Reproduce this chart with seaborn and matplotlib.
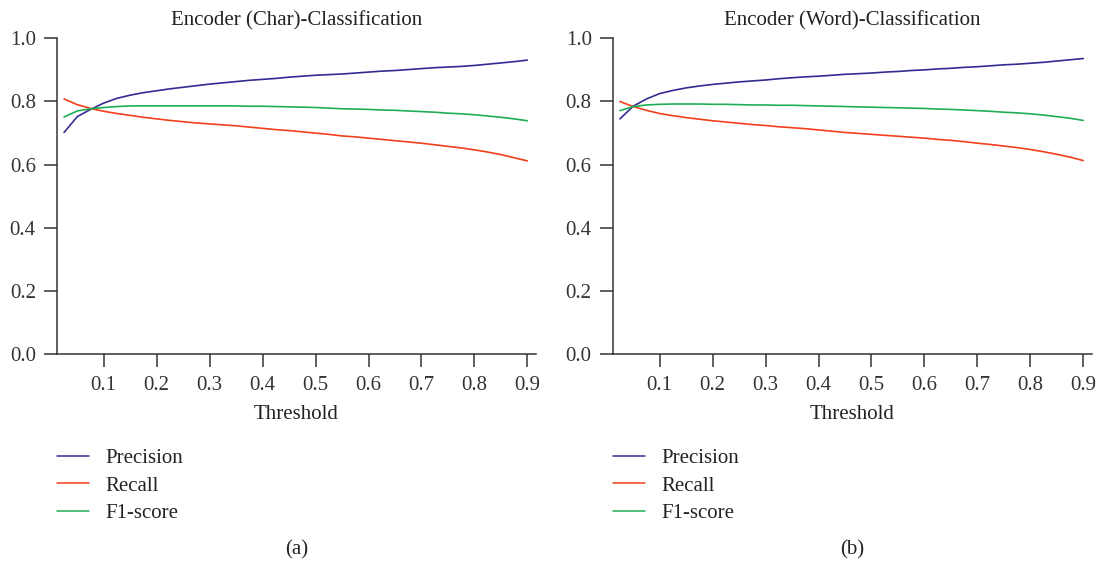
import numpy as np
import pandas as pd
import matplotlib
matplotlib.use("Agg")
import matplotlib.pyplot as plt
import seaborn as sns

thresholds = [0.025, 0.05, 0.075, 0.1, 0.125, 0.15, 0.175, 0.2, 0.225, 0.25,
              0.275, 0.3, 0.325, 0.35, 0.375, 0.4, 0.425, 0.45, 0.475, 0.5,
              0.525, 0.55, 0.575, 0.6, 0.625, 0.65, 0.675, 0.7, 0.725, 0.75,
              0.775, 0.8, 0.825, 0.85, 0.875, 0.9]

char_precision = [0.702, 0.752, 0.775, 0.795, 0.810, 0.820, 0.828, 0.834, 0.840, 0.845,
                  0.850, 0.855, 0.859, 0.863, 0.867, 0.870, 0.873, 0.877, 0.880, 0.883,
                  0.885, 0.887, 0.890, 0.893, 0.896, 0.898, 0.901, 0.904, 0.907, 0.909,
                  0.911, 0.914, 0.918, 0.922, 0.926, 0.931]
char_recall = [0.808, 0.790, 0.778, 0.769, 0.762, 0.756, 0.750, 0.745, 0.740, 0.736,
               0.732, 0.729, 0.726, 0.723, 0.719, 0.715, 0.711, 0.708, 0.704, 0.700,
               0.696, 0.691, 0.688, 0.684, 0.680, 0.676, 0.672, 0.668, 0.663, 0.658,
               0.653, 0.647, 0.640, 0.632, 0.622, 0.612]
char_f1 = [0.751, 0.770, 0.777, 0.781, 0.784, 0.786, 0.786, 0.786, 0.786, 0.786,
           0.786, 0.786, 0.786, 0.786, 0.785, 0.785, 0.784, 0.783, 0.782, 0.781,
           0.779, 0.777, 0.776, 0.775, 0.773, 0.772, 0.770, 0.768, 0.766, 0.763,
           0.761, 0.758, 0.754, 0.750, 0.745, 0.739]

word_precision = [0.745, 0.785, 0.808, 0.825, 0.835, 0.843, 0.849, 0.854, 0.858, 0.862,
                  0.865, 0.868, 0.872, 0.875, 0.878, 0.880, 0.883, 0.886, 0.888, 0.890,
                  0.893, 0.895, 0.898, 0.900, 0.903, 0.905, 0.908, 0.910, 0.913, 0.916,
                  0.918, 0.921, 0.924, 0.928, 0.932, 0.936]
word_recall = [0.800, 0.784, 0.772, 0.762, 0.755, 0.749, 0.744, 0.739, 0.735, 0.731,
               0.727, 0.724, 0.720, 0.717, 0.714, 0.710, 0.706, 0.702, 0.699, 0.696,
               0.693, 0.690, 0.687, 0.684, 0.680, 0.677, 0.673, 0.668, 0.664, 0.659,
               0.654, 0.648, 0.641, 0.633, 0.624, 0.613]
word_f1 = [0.771, 0.784, 0.789, 0.791, 0.792, 0.792, 0.792, 0.791, 0.791, 0.790,
           0.789, 0.789, 0.788, 0.788, 0.787, 0.786, 0.785, 0.784, 0.783, 0.782,
           0.781, 0.780, 0.779, 0.778, 0.776, 0.775, 0.773, 0.771, 0.769, 0.766,
           0.764, 0.761, 0.757, 0.752, 0.747, 0.740]

metric_names = ["Precision", "Recall", "F1-score"]
titles = ["Encoder (Char)-Classification", "Encoder (Word)-Classification"]
panel_labels = ["(a)", "(b)"]
xtick_values = [0.1, 0.2, 0.3, 0.4, 0.5, 0.6, 0.7, 0.8, 0.9]
ytick_values = [0.0, 0.2, 0.4, 0.6, 0.8, 1.0]

colors = {"Precision": "#332c92", "Recall": "#f23f1c", "F1-score": "#1fae55"}

sns.set_style("ticks")
plt.rcParams["font.family"] = ["Liberation Serif", "DejaVu Serif"]
plt.rcParams["axes.edgecolor"] = "#333333"
plt.rcParams["xtick.color"] = "#333333"
plt.rcParams["ytick.color"] = "#333333"
plt.rcParams["text.color"] = "#222222"
plt.rcParams["axes.labelcolor"] = "#222222"

FS = 15

def make_df(p, r, f):
    return pd.DataFrame({
        "Threshold": thresholds * 3,
        "value": p + r + f,
        "metric": ["Precision"] * len(p) + ["Recall"] * len(r) + ["F1-score"] * len(f),
    })

dfs = [make_df(char_precision, char_recall, char_f1),
       make_df(word_precision, word_recall, word_f1)]

fig = plt.figure(figsize=(11.03, 5.63), dpi=100)
ax_pos = [[0.052, 0.3707, 0.4337, 0.5613], [0.556, 0.3707, 0.4337, 0.5613]]

for i in range(2):
    ax = fig.add_axes(ax_pos[i])
    sns.lineplot(data=dfs[i], x="Threshold", y="value", hue="metric",
                 hue_order=metric_names, palette=colors, linewidth=1.2, ax=ax)
    ax.set_xlim(0.0124, 0.9158)
    ax.set_ylim(0.0, 1.0)
    ax.set_xticks(xtick_values)
    ax.set_xticklabels([f"{v:.1f}" for v in xtick_values])
    ax.set_yticks(ytick_values)
    ax.set_yticklabels([f"{v:.1f}" for v in ytick_values])
    ax.tick_params(axis="both", direction="out", length=9.5, width=1.1, labelsize=FS)
    ax.tick_params(axis="x", pad=6)
    ax.tick_params(axis="y", pad=6)
    for s in ["top", "right"]:
        ax.spines[s].set_visible(False)
    for s in ["left", "bottom"]:
        ax.spines[s].set_linewidth(1.1)
    ax.set_title(titles[i], fontsize=FS, pad=9)
    ax.set_xlabel("Threshold", fontsize=FS, labelpad=7)
    ax.set_ylabel("")
    leg = ax.legend(loc="upper left", bbox_to_anchor=(0.0, -0.298), frameon=False,
                    fontsize=FS, handlelength=1.5, handletextpad=0.8,
                    labelspacing=0.38, borderpad=0, borderaxespad=0)
    for h in leg.get_lines():
        h.set_linewidth(1.1)
    ax.text(0.5, -0.62, panel_labels[i], transform=ax.transAxes, ha="center",
            va="center", fontsize=FS)

fig.savefig("out.png", dpi=100)
